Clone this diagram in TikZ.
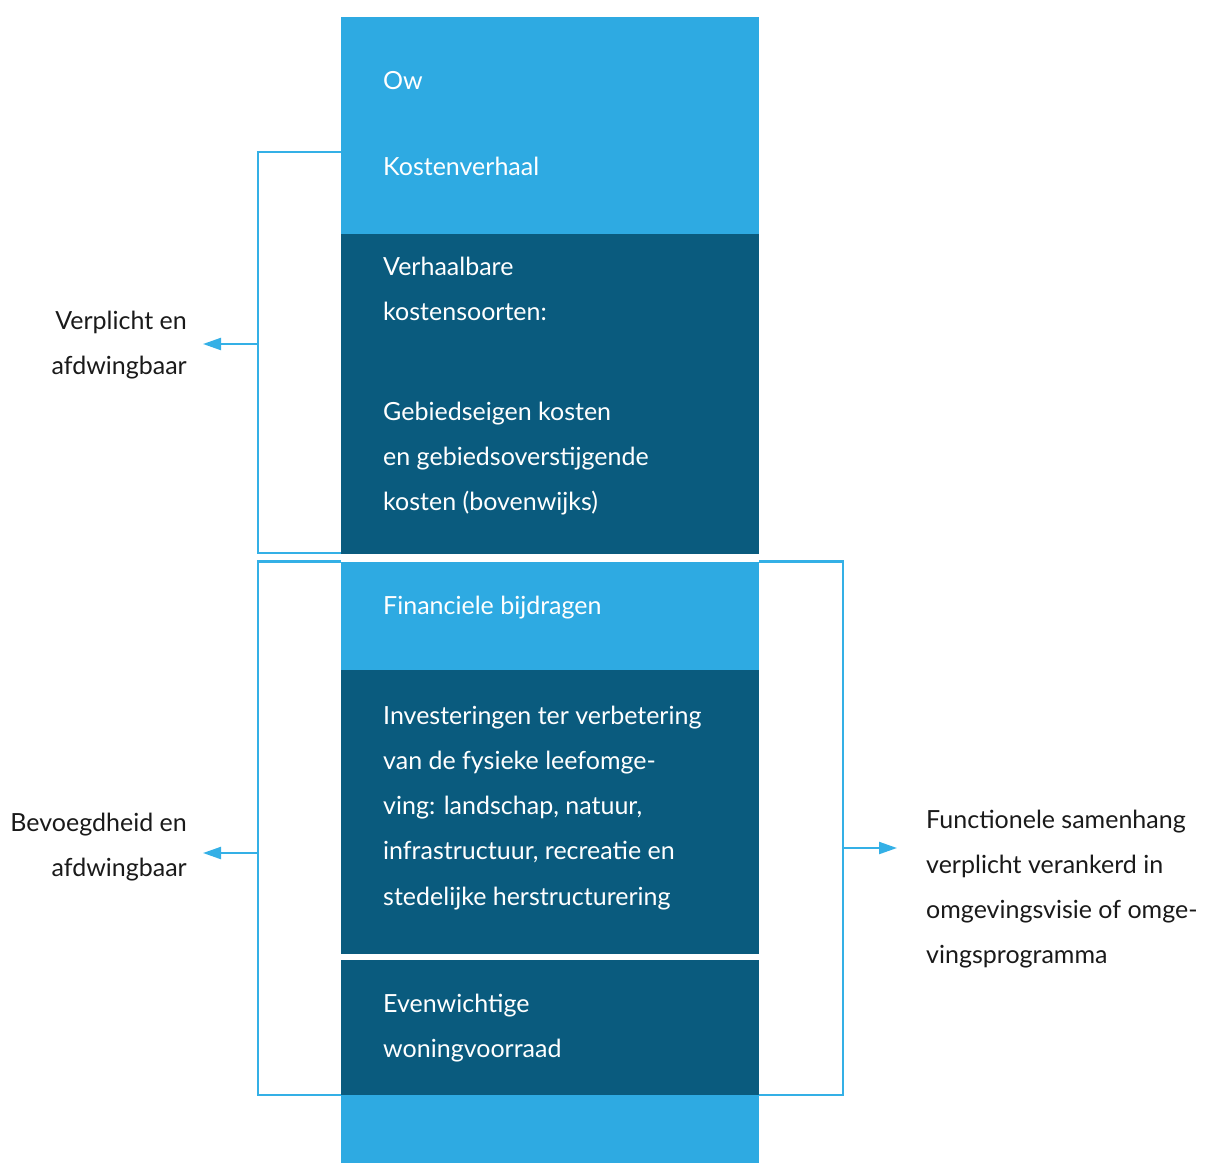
\documentclass[tikz,border=0pt]{standalone}
\usepackage{fontspec}
\setmainfont{Lato}
\usetikzlibrary{arrows.meta}
\definecolor{skyblue}{RGB}{46,170,226}
\definecolor{deepblue}{RGB}{10,91,126}
\definecolor{bracketblue}{RGB}{52,176,230}
\definecolor{inkgray}{RGB}{26,26,26}
\begin{document}
\begin{tikzpicture}[x=1pt,y=-1pt,
  blk/.style={anchor=north west,inner sep=0pt,outer sep=0pt,minimum width=418pt},
  lightblk/.style={blk,fill=skyblue},
  darkblk/.style={blk,fill=deepblue},
  intext/.style={anchor=base west,inner sep=0pt,text=white,font=\fontsize{25}{45}\selectfont},
  outl/.style={anchor=base east,inner sep=0pt,text=inkgray,font=\fontsize{25}{45}\selectfont},
  outr/.style={anchor=base west,inner sep=0pt,text=inkgray,font=\fontsize{25}{45}\selectfont},
  brk/.style={draw=bracketblue,line width=2.2pt},
  pointer/.style={brk,-{Triangle[length=18pt,width=12pt]}}]
\useasboundingbox (0,0) rectangle (1208,1163);

% the column of blocks
\node[lightblk,minimum height=217pt] (ow) at (341,17) {};
\node[darkblk,minimum height=320pt] (kosten) at (341,234) {};
\node[lightblk,minimum height=109pt] (fin) at (341,561.5) {};
\node[darkblk,minimum height=284pt] (inv) at (341,670) {};
\node[darkblk,minimum height=135pt] (woning) at (341,960) {};
\node[lightblk,minimum height=68pt] (foot) at (341,1095) {};

% texts inside the column
\node[intext] (t-ow) at (383,89) {Ow};
\node[intext] (t-kv) at (383,175) {Kostenverhaal};
\node[intext] (t-vh1) at (383,275) {Verhaalbare};
\node[intext] (t-vh2) at (383,320) {kostensoorten:};
\node[intext] (t-gb1) at (383,420) {Gebiedseigen kosten};
\node[intext] (t-gb2) at (383,465) {en gebiedsoverstijgende};
\node[intext] (t-gb3) at (383,510) {kosten (bovenwijks)};
\node[intext] (t-fb) at (383,614) {Financiele bijdragen};
\node[intext] (t-iv1) at (383,724) {Investeringen ter verbetering};
\node[intext] (t-iv2) at (383,769) {van de fysieke leefomge-};
\node[intext] (t-iv3) at (383,814) {ving: landschap, natuur,};
\node[intext] (t-iv4) at (383,859) {infrastructuur, recreatie en};
\node[intext] (t-iv5) at (383,905) {stedelijke herstructurering};
\node[intext] (t-ev1) at (383,1012) {Evenwichtige};
\node[intext] (t-ev2) at (383,1057) {woningvoorraad};

% side labels
\node[outl] (l-vp1) at (187,329) {Verplicht en};
\node[outl] (l-vp2) at (187,374) {afdwingbaar};
\node[outl] (l-bv1) at (187,831) {Bevoegdheid en};
\node[outl] (l-bv2) at (187,876) {afdwingbaar};
\node[outr] (r-fs1) at (926,828) {Functionele samenhang};
\node[outr] (r-fs2) at (926,873) {verplicht verankerd in};
\node[outr] (r-fs3) at (926,918) {omgevingsvisie of omge-};
\node[outr] (r-fs4) at (926,963) {vingsprogramma};

% bracket ends on the column and arrow anchors
\coordinate (ua) at (341,152);
\coordinate (ub) at (341,553);
\coordinate (uarr) at (258,344);
\coordinate (uend) at (203,344);
\coordinate (la) at (341,561.5);
\coordinate (lb) at (341,1095);
\coordinate (larr) at (258,853);
\coordinate (lend) at (203,853);
\coordinate (ra) at (759,561.5);
\coordinate (rb) at (759,1095);
\coordinate (rarr) at (843,848);
\coordinate (rend) at (897,848);

% upper left bracket
\draw[brk] (ua) -- (258,152) -- (258,553) -- (ub);
\draw[pointer] (uarr) -- (uend);
% lower left bracket
\draw[brk] (la) -- (258,561.5) -- (258,1095) -- (lb);
\draw[pointer] (larr) -- (lend);
% right bracket
\draw[brk] (ra) -- (843,561.5) -- (843,1095) -- (rb);
\draw[pointer] (rarr) -- (rend);
\end{tikzpicture}
\end{document}
